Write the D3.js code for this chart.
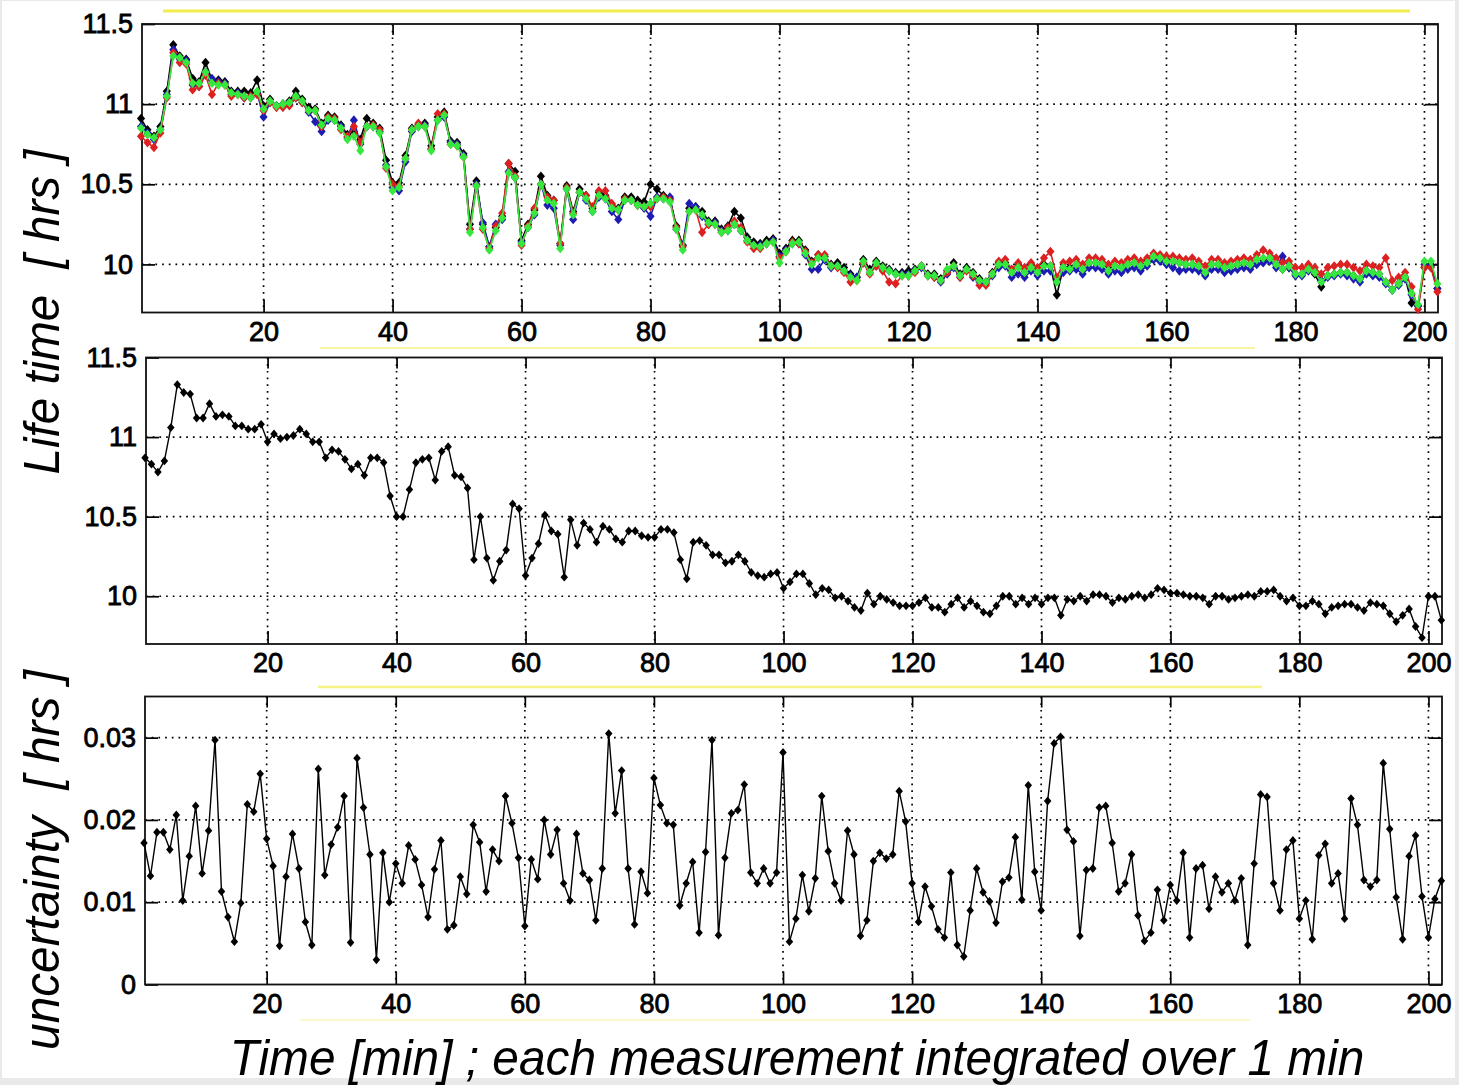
<!DOCTYPE html>
<html><head><meta charset="utf-8">
<script src="https://cdn.jsdelivr.net/npm/d3@7"></script>
<style>body{margin:0;background:#e9e9e9}svg{display:block}</style>
</head><body>
<svg id="c" width="1459" height="1085"></svg>
<script>
// ---------------- DATA ----------------
const minutes = d3.range(1, 203);
const xTicks = [20, 40, 60, 80, 100, 120, 140, 160, 180, 200];
const lifeTicks = [10, 10.5, 11, 11.5];
const lifeTickLabels = ["10", "10.5", "11", "11.5"];
const uncTicks = [0, 0.01, 0.02, 0.03];
const uncTickLabels = ["0", "0.01", "0.02", "0.03"];

// middle panel: combined lifetime
const lifeMean = [
10.87,10.83,10.78,10.85,11.06,11.33,11.28,11.27,11.12,11.12,
11.21,11.13,11.14,11.13,11.07,11.07,11.05,11.05,11.08,10.97,
11.02,10.99,11.00,11.01,11.05,11.02,10.97,10.97,10.87,10.92,
10.91,10.86,10.80,10.83,10.76,10.87,10.87,10.84,10.63,10.50,
10.50,10.67,10.84,10.86,10.87,10.73,10.91,10.94,10.76,10.75,
10.68,10.23,10.50,10.24,10.10,10.22,10.29,10.58,10.55,10.13,
10.24,10.33,10.51,10.41,10.39,10.12,10.48,10.32,10.46,10.42,
10.34,10.44,10.42,10.36,10.34,10.41,10.41,10.38,10.37,10.37,
10.42,10.42,10.40,10.23,10.11,10.34,10.35,10.32,10.26,10.26,
10.21,10.22,10.26,10.22,10.15,10.13,10.12,10.14,10.15,10.05,
10.09,10.14,10.14,10.08,10.01,10.05,10.04,9.99,10.00,9.97,
9.93,9.91,10.02,9.95,10.00,9.98,9.96,9.94,9.94,9.94,
9.96,9.99,9.93,9.93,9.90,9.95,9.99,9.93,9.97,9.94,
9.90,9.89,9.94,10.00,10.00,9.95,9.99,9.95,9.99,9.95,
9.99,9.99,9.88,9.98,9.97,10.00,9.97,10.01,10.01,10.00,
9.96,9.99,9.98,10.00,10.01,9.99,10.01,10.05,10.04,10.02,
10.02,10.01,10.00,10.00,9.99,9.95,10.00,10.00,9.98,9.99,
10.00,10.01,10.00,10.03,10.03,10.04,10.00,9.97,9.99,9.94,
9.94,9.97,9.95,9.89,9.93,9.94,9.95,9.95,9.93,9.91,
9.96,9.95,9.94,9.89,9.84,9.88,9.92,9.81,9.74,10.00,
10.00,9.85];

// top panel: four channels
const lifeBlack = [
10.91,10.84,10.80,10.86,11.08,11.37,11.30,11.28,11.16,11.14,
11.26,11.15,11.15,11.14,11.08,11.08,11.08,11.07,11.15,10.99,
11.03,10.99,11.00,11.02,11.08,11.03,10.98,10.97,10.88,10.93,
10.92,10.87,10.81,10.83,10.78,10.91,10.88,10.85,10.65,10.51,
10.51,10.68,10.85,10.87,10.88,10.74,10.92,10.95,10.77,10.76,
10.69,10.25,10.52,10.25,10.11,10.23,10.30,10.63,10.58,10.15,
10.25,10.34,10.55,10.43,10.40,10.13,10.49,10.33,10.47,10.43,
10.35,10.45,10.43,10.37,10.35,10.42,10.42,10.40,10.39,10.50,
10.47,10.43,10.41,10.24,10.12,10.35,10.36,10.33,10.27,10.27,
10.22,10.24,10.33,10.29,10.17,10.14,10.13,10.15,10.16,10.07,
10.10,10.15,10.15,10.09,10.02,10.06,10.05,10.00,10.01,9.98,
9.94,9.92,10.03,9.97,10.02,9.99,9.97,9.95,9.95,9.96,
9.97,9.99,9.94,9.94,9.91,9.96,10.01,9.94,9.98,9.95,
9.91,9.89,9.95,10.01,10.01,9.96,10.00,9.96,10.00,9.96,
10.00,9.99,9.81,9.98,9.98,10.00,9.98,10.01,10.01,10.00,
9.97,9.99,9.98,10.00,10.01,9.99,10.02,10.05,10.04,10.03,
10.02,10.01,10.00,10.00,9.99,9.94,10.00,10.00,9.98,9.99,
10.00,10.01,10.00,10.03,10.03,10.04,10.00,9.97,9.98,9.94,
9.94,9.97,9.94,9.86,9.93,9.94,9.95,9.95,9.93,9.91,
9.96,9.95,9.94,9.89,9.84,9.88,9.92,9.76,9.74,9.98,
10.00,9.85];
const lifeRed = [
10.80,10.76,10.73,10.82,11.04,11.32,11.26,11.25,11.09,11.11,
11.18,11.06,11.13,11.12,11.05,11.06,11.04,11.05,11.06,10.96,
11.01,10.98,10.98,10.99,11.04,11.01,10.96,10.96,10.86,10.92,
10.91,10.84,10.80,10.86,10.76,10.86,10.87,10.84,10.60,10.50,
10.49,10.66,10.84,10.88,10.86,10.72,10.94,10.94,10.75,10.74,
10.67,10.22,10.49,10.22,10.10,10.24,10.32,10.63,10.55,10.12,
10.24,10.35,10.50,10.42,10.40,10.13,10.48,10.32,10.45,10.43,
10.36,10.46,10.46,10.38,10.34,10.41,10.40,10.37,10.36,10.36,
10.41,10.42,10.40,10.23,10.11,10.33,10.34,10.20,10.25,10.25,
10.20,10.23,10.27,10.23,10.14,10.10,10.10,10.13,10.14,10.04,
10.08,10.14,10.13,10.08,10.01,10.06,10.06,9.99,9.98,9.95,
9.89,9.90,10.01,9.94,9.99,9.96,9.89,9.88,9.93,9.93,
9.95,9.99,9.93,9.92,9.90,9.95,9.99,9.92,9.96,9.93,
9.87,9.87,9.94,10.02,10.03,9.97,10.01,9.98,10.01,9.98,
10.04,10.08,9.92,10.01,10.02,10.03,10.00,10.04,10.04,10.03,
10.00,10.02,10.01,10.03,10.04,10.02,10.04,10.07,10.06,10.05,
10.05,10.04,10.03,10.04,10.02,9.99,10.03,10.03,10.01,10.02,
10.03,10.04,10.03,10.06,10.09,10.07,10.04,10.01,10.02,9.98,
9.98,10.00,9.98,9.94,9.98,9.99,10.00,10.00,9.98,9.96,
10.00,9.99,9.98,10.04,9.90,9.92,9.95,9.86,9.72,9.98,
9.98,9.83];
const lifeBlue = [
10.86,10.82,10.78,10.84,11.06,11.34,11.28,11.27,11.12,11.11,
11.20,11.16,11.14,11.13,11.06,11.07,11.04,11.04,11.07,10.92,
11.01,10.99,11.00,11.00,11.04,11.01,10.95,10.89,10.83,10.90,
10.90,10.86,10.79,10.90,10.75,10.86,10.86,10.83,10.62,10.48,
10.46,10.64,10.83,10.86,10.87,10.72,10.90,10.92,10.76,10.75,
10.68,10.22,10.50,10.26,10.11,10.25,10.28,10.58,10.54,10.14,
10.23,10.31,10.50,10.37,10.35,10.12,10.47,10.28,10.45,10.40,
10.33,10.42,10.41,10.33,10.28,10.40,10.40,10.37,10.35,10.30,
10.42,10.41,10.42,10.22,10.12,10.38,10.36,10.30,10.25,10.26,
10.21,10.21,10.25,10.21,10.15,10.12,10.12,10.13,10.15,10.05,
10.09,10.13,10.13,10.06,9.97,9.97,10.03,9.98,9.99,9.96,
9.93,9.92,10.01,9.95,9.99,9.97,9.96,9.94,9.94,9.94,
9.96,9.98,9.93,9.92,9.89,9.94,9.98,9.92,9.97,9.92,
9.89,9.88,9.93,9.98,9.99,9.92,9.94,9.92,9.96,9.93,
9.96,9.96,9.90,9.95,9.96,9.97,9.94,9.98,9.98,9.97,
9.94,9.96,9.95,9.97,9.98,9.96,9.99,10.03,10.02,10.00,
9.98,9.96,9.97,9.97,9.96,9.93,9.97,9.97,9.95,9.96,
9.97,9.98,9.97,10.00,10.01,10.02,9.98,10.05,9.98,9.93,
9.93,9.96,9.95,9.90,9.92,9.93,9.94,9.93,9.91,9.89,
9.94,9.93,9.92,9.88,9.84,9.87,9.91,9.81,9.74,10.00,
9.99,9.85];
const lifeGreen = [
10.85,10.81,10.79,10.84,11.05,11.30,11.29,11.26,11.13,11.13,
11.20,11.13,11.12,11.12,11.07,11.06,11.05,11.04,11.08,10.97,
11.02,10.99,11.00,11.01,11.05,11.02,10.96,10.96,10.87,10.91,
10.90,10.85,10.78,10.80,10.71,10.86,10.86,10.82,10.61,10.46,
10.48,10.66,10.84,10.86,10.86,10.71,10.90,10.93,10.75,10.74,
10.67,10.20,10.49,10.23,10.09,10.21,10.29,10.57,10.54,10.13,
10.23,10.32,10.50,10.40,10.38,10.10,10.47,10.31,10.45,10.41,
10.33,10.43,10.41,10.35,10.34,10.40,10.40,10.37,10.36,10.38,
10.41,10.41,10.39,10.22,10.09,10.33,10.34,10.31,10.26,10.25,
10.20,10.21,10.25,10.21,10.15,10.12,10.11,10.13,10.14,10.01,
10.08,10.13,10.14,10.07,10.00,10.04,10.04,9.99,9.99,9.96,
9.92,9.90,10.02,9.95,10.01,9.98,9.96,9.94,9.93,9.93,
9.96,9.99,9.93,9.93,9.90,9.97,9.99,9.93,9.97,9.94,
9.90,9.89,9.94,10.00,10.00,9.95,9.98,9.95,9.98,9.95,
9.99,9.99,9.89,9.98,9.97,10.00,9.97,10.01,10.01,10.00,
9.96,9.99,9.98,10.00,10.01,9.99,10.01,10.05,10.04,10.02,
10.02,10.01,10.00,10.00,9.99,9.95,10.00,10.00,9.98,9.99,
10.00,10.01,10.00,10.03,10.04,10.04,10.00,9.97,9.99,9.94,
9.94,9.97,9.95,9.89,9.93,9.94,9.95,9.95,9.93,9.91,
9.96,9.95,9.94,9.89,9.84,9.88,9.92,9.82,9.75,10.02,
10.02,9.88];

// bottom panel: uncertainty
const uncertainty = [
.0172,.0132,.0185,.0185,.0164,.0206,.0102,.0156,.0217,.0135,
.0187,.0297,.0113,.0082,.0052,.0099,.0219,.0210,.0256,.0177,
.0144,.0047,.0131,.0183,.0141,.0076,.0048,.0262,.0133,.0170,
.0191,.0229,.0051,.0275,.0215,.0158,.0030,.0160,.0100,.0147,
.0123,.0169,.0152,.0121,.0082,.0140,.0175,.0067,.0072,.0131,
.0110,.0194,.0173,.0113,.0164,.0150,.0229,.0196,.0154,.0071,
.0152,.0128,.0200,.0158,.0188,.0123,.0102,.0183,.0135,.0127,
.0078,.0141,.0305,.0208,.0260,.0141,.0073,.0137,.0111,.0251,
.0218,.0196,.0194,.0096,.0123,.0149,.0063,.0161,.0297,.0060,
.0154,.0208,.0212,.0243,.0136,.0123,.0141,.0123,.0136,.0282,
.0052,.0080,.0133,.0089,.0129,.0229,.0162,.0123,.0102,.0187,
.0158,.0059,.0078,.0150,.0160,.0153,.0158,.0235,.0198,.0123,
.0076,.0119,.0095,.0067,.0057,.0136,.0048,.0034,.0090,.0141,
.0112,.0101,.0075,.0125,.0130,.0179,.0103,.0242,.0137,.0090,
.0223,.0293,.0301,.0188,.0174,.0059,.0139,.0141,.0215,.0217,
.0172,.0113,.0123,.0158,.0084,.0053,.0063,.0115,.0078,.0121,
.0102,.0160,.0057,.0141,.0145,.0092,.0131,.0112,.0123,.0102,
.0129,.0048,.0147,.0231,.0228,.0123,.0090,.0164,.0175,.0080,
.0102,.0055,.0157,.0171,.0123,.0135,.0080,.0226,.0194,.0127,
.0119,.0127,.0269,.0189,.0106,.0055,.0156,.0181,.0107,.0057,
.0104,.0126];

const yLabelLife = "Life time  [ hrs ]";
const yLabelUnc = "uncertainty  [ hrs ]";
const xLabel = "Time [min] ; each measurement integrated over 1 min";

// ---------------- DRAW ----------------
const svg = d3.select("#c");
svg.append("rect").attr("x", 2).attr("y", 1).attr("width", 1453).attr("height", 1077).attr("fill", "#fff");

// faint yellow artefact lines
const yellow = [[163, 1410, 11, 3, 0.9], [320, 1255, 348, 2, 0.45], [318, 1262, 687, 2.5, 0.6], [300, 1250, 1020, 2, 0.25]];
yellow.forEach(([a, b, y, w, o]) => svg.append("line").attr("x1", a).attr("x2", b).attr("y1", y).attr("y2", y)
  .attr("stroke", "#f2ea3a").attr("stroke-width", w).attr("opacity", o));

const panels = [
  {left: 142, right: 1438, top: 24, bottom: 312.5, ydom: [9.7, 11.5], yt: lifeTicks, yl: lifeTickLabels,
   series: [[lifeBlack, "#000000"], [lifeBlue, "#1c1cb4"], [lifeRed, "#dd2020"], [lifeGreen, "#36e83e"]], mk: 4.8, lw: 1.6},
  {left: 146, right: 1442, top: 357.5, bottom: 644, ydom: [9.7, 11.5], yt: lifeTicks, yl: lifeTickLabels,
   series: [[lifeMean, "#000000"]], mk: 4.4, lw: 1.4},
  {left: 145, right: 1442, top: 696.5, bottom: 984.5, ydom: [0, 0.035], yt: uncTicks, yl: uncTickLabels,
   series: [[uncertainty, "#000000"]], mk: 4.4, lw: 1.4}
];

const diamond = r => `M0,${-r}L${r*0.85},0L0,${r}L${-r*0.85},0Z`;

panels.forEach(p => {
  const x = d3.scaleLinear().domain([1.15, 202.1]).range([p.left, p.right]);
  const y = d3.scaleLinear().domain(p.ydom).range([p.bottom, p.top]);
  const g = svg.append("g");

  // dotted grid
  g.selectAll(".gx").data(xTicks).join("line")
    .attr("x1", d => x(d)).attr("x2", d => x(d)).attr("y1", p.top).attr("y2", p.bottom)
    .attr("stroke", "#000").attr("stroke-width", 1.7).attr("stroke-dasharray", "1.7 5");
  g.selectAll(".gy").data(p.yt.filter(v => y(v) > p.top + 2 && y(v) < p.bottom - 2)).join("line")
    .attr("x1", p.left).attr("x2", p.right).attr("y1", d => y(d)).attr("y2", d => y(d))
    .attr("stroke", "#000").attr("stroke-width", 1.7).attr("stroke-dasharray", "1.7 5");

  // axes with inward ticks (all four sides)
  const font = s => s.style("font-family", "'Liberation Sans', Arial, sans-serif").style("font-size", "27px")
      .attr("fill", "#000").attr("stroke", "#000").attr("stroke-width", 0.8);
  const ab = g.append("g").attr("transform", `translate(0,${p.bottom})`)
    .call(d3.axisBottom(x).tickValues(xTicks).tickSize(-13).tickPadding(9));
  const at = g.append("g").attr("transform", `translate(0,${p.top})`)
    .call(d3.axisTop(x).tickValues(xTicks).tickSize(-11).tickFormat(""));
  const al = g.append("g").attr("transform", `translate(${p.left},0)`)
    .call(d3.axisLeft(y).tickValues(p.yt).tickSize(-13).tickPadding(9).tickFormat((d, i) => p.yl[i]));
  const ar = g.append("g").attr("transform", `translate(${p.right},0)`)
    .call(d3.axisRight(y).tickValues(p.yt).tickSize(-13).tickFormat(""));
  [ab, at, al, ar].forEach(a => {
    a.select(".domain").remove();
    a.selectAll(".tick line").attr("stroke", "#000").attr("stroke-width", 1.7);
    a.selectAll("text").call(font);
  });

  // frame
  g.append("rect").attr("x", p.left).attr("y", p.top).attr("width", p.right - p.left).attr("height", p.bottom - p.top)
    .attr("fill", "none").attr("stroke", "#111").attr("stroke-width", 1.8);

  // series
  p.series.forEach(([vals, col]) => {
    const pts = minutes.map((m, i) => [m, vals[i]]);
    g.append("path").datum(pts)
      .attr("d", d3.line().x(d => x(d[0])).y(d => y(d[1])))
      .attr("fill", "none").attr("stroke", col).attr("stroke-width", p.lw).attr("stroke-linejoin", "round");
    g.selectAll(null).data(pts).join("path")
      .attr("transform", d => `translate(${x(d[0])},${y(d[1])})`)
      .attr("d", diamond(p.mk)).attr("fill", col);
  });
});

// axis titles: italic, condensed, fitted to the original extents
function title(txt, cx, cy, targetLen, rot) {
  const t = svg.append("text").text(txt)
    .style("font-family", "'Liberation Sans', Arial, sans-serif").style("font-style", "italic")
    .style("font-size", "50px").style("white-space", "pre").attr("fill", "#000")
    .attr("text-anchor", "middle");
  const len = t.node().getComputedTextLength();
  const s = targetLen / len;
  t.attr("transform", `translate(${cx},${cy}) rotate(${rot}) scale(${s},1)`);
}
title(yLabelLife, 59, 312, 325, -90);
title(yLabelUnc, 59, 860, 380, -90);
title(xLabel, 797, 1075, 1135, 0);
</script>
</body></html>
